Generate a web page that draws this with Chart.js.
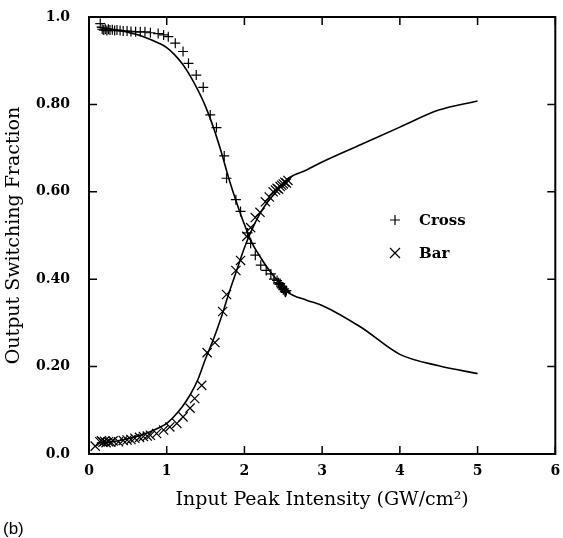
<!DOCTYPE html>
<html>
<head>
<meta charset="utf-8">
<script src="https://cdn.jsdelivr.net/npm/chart.js@4.4.0/dist/chart.umd.min.js"></script>
<style>
html, body { margin: 0; padding: 0; background: #fff; }
</style>
</head>
<body>
<canvas id="myChart" width="563" height="538"></canvas>
<script>
// theory curves
var curveX = [0.1, 0.3, 0.5, 0.7, 0.9, 1.0, 1.1, 1.2, 1.3, 1.4, 1.5, 1.6, 1.7, 1.8, 1.9, 2.0, 2.1, 2.2, 2.3, 2.4, 2.55, 2.8, 3.0, 3.5, 4.0, 4.5, 5.0];
var crossCurveY = [0.977, 0.972, 0.965, 0.955, 0.940, 0.930, 0.914, 0.893, 0.866, 0.833, 0.795, 0.748, 0.692, 0.630, 0.575, 0.525, 0.482, 0.452, 0.425, 0.402, 0.371, 0.352, 0.340, 0.290, 0.228, 0.202, 0.184];
var barCurveY = [0.025, 0.028, 0.035, 0.045, 0.060, 0.070, 0.087, 0.108, 0.135, 0.170, 0.218, 0.262, 0.312, 0.368, 0.420, 0.472, 0.515, 0.550, 0.577, 0.598, 0.629, 0.650, 0.668, 0.708, 0.748, 0.787, 0.808];

// measured points
var crossX = [0.145, 0.17, 0.19, 0.21, 0.23, 0.25, 0.27, 0.30, 0.33, 0.36, 0.40, 0.44, 0.49, 0.54, 0.60, 0.66, 0.72, 0.79, 0.89, 0.96, 1.02, 1.11, 1.21, 1.28, 1.38, 1.47, 1.56, 1.64, 1.74, 1.77, 1.89, 1.95, 2.04, 2.08, 2.14, 2.21, 2.28, 2.34, 2.38, 2.42, 2.44, 2.45, 2.46, 2.47, 2.48, 2.49, 2.50, 2.51, 2.52, 2.53, 2.54];
var crossY = [0.985, 0.972, 0.970, 0.972, 0.969, 0.972, 0.970, 0.971, 0.969, 0.970, 0.969, 0.968, 0.968, 0.967, 0.966, 0.966, 0.966, 0.964, 0.962, 0.959, 0.955, 0.940, 0.921, 0.894, 0.867, 0.839, 0.776, 0.747, 0.682, 0.631, 0.582, 0.555, 0.506, 0.482, 0.455, 0.432, 0.420, 0.412, 0.400, 0.397, 0.392, 0.388, 0.390, 0.384, 0.380, 0.382, 0.376, 0.378, 0.372, 0.370, 0.374];
var barX = [0.08, 0.14, 0.16, 0.18, 0.20, 0.22, 0.25, 0.28, 0.31, 0.38, 0.44, 0.49, 0.54, 0.59, 0.65, 0.70, 0.75, 0.79, 0.87, 0.96, 1.04, 1.13, 1.21, 1.30, 1.36, 1.45, 1.52, 1.62, 1.72, 1.77, 1.89, 1.95, 2.03, 2.08, 2.14, 2.20, 2.27, 2.32, 2.37, 2.40, 2.42, 2.44, 2.46, 2.48, 2.50, 2.52, 2.54, 2.56];
var barY = [0.018, 0.028, 0.030, 0.027, 0.029, 0.026, 0.028, 0.027, 0.030, 0.028, 0.031, 0.032, 0.033, 0.036, 0.038, 0.040, 0.041, 0.043, 0.047, 0.055, 0.062, 0.070, 0.085, 0.105, 0.127, 0.157, 0.232, 0.255, 0.326, 0.365, 0.420, 0.443, 0.498, 0.518, 0.541, 0.553, 0.577, 0.588, 0.600, 0.604, 0.608, 0.606, 0.612, 0.615, 0.618, 0.622, 0.620, 0.626];

var yTickLabels = ['0.0', '0.20', '0.40', '0.60', '0.80', '1.0'];
var xTickLabels = ['0', '1', '2', '3', '4', '5', '6'];

function pts(xs, ys) {
    return xs.map(function(x, i) { return {x: x, y: ys[i]}; });
}

var serif = 'DejaVu Serif';

// box, inward ticks, legend and panel letter
var framePlugin = {
    id: 'frame',
    afterDraw: function(chart) {
        var ctx = chart.ctx, a = chart.chartArea;
        var xs = chart.scales.x, ys = chart.scales.y;
        ctx.save();
        ctx.strokeStyle = '#000';
        ctx.lineWidth = 2;
        ctx.strokeRect(a.left, a.top, a.right - a.left, a.bottom - a.top);
        ctx.lineWidth = 1.5;
        ctx.beginPath();
        xs.ticks.forEach(function(t) {
            var p = xs.getPixelForValue(t.value);
            ctx.moveTo(p, a.bottom); ctx.lineTo(p, a.bottom - 8);
            ctx.moveTo(p, a.top); ctx.lineTo(p, a.top + 8);
        });
        ys.ticks.forEach(function(t) {
            var p = ys.getPixelForValue(t.value);
            ctx.moveTo(a.left, p); ctx.lineTo(a.left + 8, p);
            ctx.moveTo(a.right, p); ctx.lineTo(a.right - 8, p);
        });
        ctx.stroke();

        // legend
        var items = chart.data.datasets.filter(function(d) { return d.inLegend; });
        ctx.font = 'bold 15px "' + serif + '"';
        ctx.textBaseline = 'middle';
        ctx.textAlign = 'left';
        ctx.fillStyle = '#000';
        ctx.lineWidth = 1.2;
        items.forEach(function(d, i) {
            var cx = 395, cy = 220 + i * 33, r = 5;
            ctx.beginPath();
            if (d.pointStyle === 'cross') {
                ctx.moveTo(cx - r, cy); ctx.lineTo(cx + r, cy);
                ctx.moveTo(cx, cy - r); ctx.lineTo(cx, cy + r);
            } else {
                ctx.moveTo(cx - r, cy - r); ctx.lineTo(cx + r, cy + r);
                ctx.moveTo(cx + r, cy - r); ctx.lineTo(cx - r, cy + r);
            }
            ctx.stroke();
            ctx.fillText(d.label, 419, cy + 1);
        });

        ctx.font = '17px "Liberation Sans"';
        ctx.fillText('(b)', 3, 529);
        ctx.restore();
    }
};

var config = {
    type: 'scatter',
    data: {
        datasets: [{
            label: 'Cross',
            inLegend: true,
            data: pts(crossX, crossY),
            pointStyle: 'cross',
            pointRadius: 5,
            borderColor: '#000',
            borderWidth: 1.2
        }, {
            label: 'Bar',
            inLegend: true,
            data: pts(barX, barY),
            pointStyle: 'crossRot',
            pointRadius: 6.5,
            borderColor: '#000',
            borderWidth: 1.2
        }, {
            label: 'Cross theory',
            type: 'line',
            data: pts(curveX, crossCurveY),
            borderColor: '#000',
            borderWidth: 1.6,
            pointRadius: 0,
            cubicInterpolationMode: 'monotone',
            fill: false
        }, {
            label: 'Bar theory',
            type: 'line',
            data: pts(curveX, barCurveY),
            borderColor: '#000',
            borderWidth: 1.6,
            pointRadius: 0,
            cubicInterpolationMode: 'monotone',
            fill: false
        }]
    },
    options: {
        responsive: false,
        animation: false,
        devicePixelRatio: 1,
        layout: { padding: { top: 17, right: 6, left: 0, bottom: 0 } },
        plugins: {
            legend: { display: false },
            tooltip: { enabled: false }
        },
        scales: {
            x: {
                type: 'linear',
                min: 0,
                max: 6,
                ticks: {
                    stepSize: 1,
                    padding: 9,
                    color: '#000',
                    font: { family: serif, weight: 'bold', size: 14 },
                    callback: function(v, i) { return xTickLabels[i]; }
                },
                grid: { display: false, drawTicks: false },
                border: { display: false },
                title: {
                    display: true,
                    text: 'Input Peak Intensity (GW/cm\u00b2)',
                    color: '#000',
                    font: { family: serif, size: 19 },
                    padding: { top: 0, bottom: 27 }
                },
                afterFit: function(s) { s.height = 84; s.paddingLeft = 0; s.paddingRight = 0; }
            },
            y: {
                min: 0,
                max: 1,
                ticks: {
                    stepSize: 0.2,
                    padding: 19,
                    color: '#000',
                    font: { family: serif, weight: 'bold', size: 14 },
                    callback: function(v, i) { return yTickLabels[i]; }
                },
                grid: { display: false, drawTicks: false },
                border: { display: false },
                title: {
                    display: true,
                    text: 'Output Switching Fraction',
                    color: '#000',
                    font: { family: serif, size: 19 },
                    padding: { top: 3, bottom: 0 }
                },
                afterFit: function(s) { s.width = 89; s.paddingTop = 0; s.paddingBottom = 0; }
            }
        }
    },
    plugins: [framePlugin]
};

window.onload = function() {
    var ctx = document.getElementById('myChart').getContext('2d');
    window.myChart = new Chart(ctx, config);
};
</script>
</body>
</html>
